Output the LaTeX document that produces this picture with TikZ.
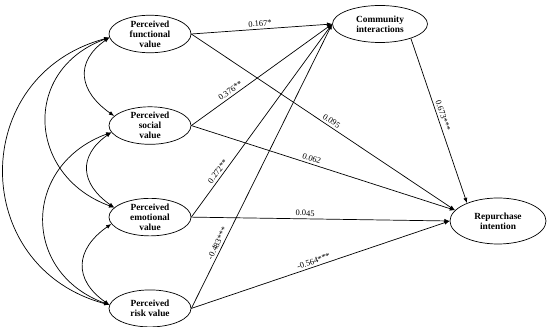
\documentclass[tikz,border=0pt]{standalone}
\usepackage{fontspec}
\setmainfont{Liberation Serif}
\usetikzlibrary{shapes.geometric,arrows.meta,positioning}

\begin{document}
\begin{tikzpicture}[
    node distance=1.6cm,
    latent/.style={ellipse, draw, semithick, minimum width=2.46cm, minimum height=1.11cm, inner sep=0pt, align=center, font=\fontsize{8}{8.5}\selectfont\bfseries},
    arrow/.style={-{Latex[length=4.5pt,width=3.5pt]}, semithick},
    covar/.style={{Latex[length=4.5pt,width=3.5pt]}-{Latex[length=4.5pt,width=3.5pt]}, semithick},
    coef/.style={font=\fontsize{7.2}{8}\selectfont, inner sep=2pt, sloped, above},
]
    \useasboundingbox (0,0) rectangle (16.5,9.81);
    % exogenous perceptions
    \node[latent] (FV) at (4.5,8.79) {Perceived\\functional\\value};
    \node[latent, below=of FV] (SV) {Perceived\\social\\value};
    \node[latent, below=of SV] (EV) {Perceived\\emotional\\value};
    \node[latent, below=of EV] (RV) {Perceived\\risk value};
    % mediator and outcome
    \node[latent, minimum width=2.85cm] (CI) at (11.4,9.09) {Community\\interactions};
    \node[latent, minimum width=2.88cm, minimum height=1.38cm] (RI) at (14.94,3.18) {Repurchase\\intention};

    \draw[arrow] (FV.east) -- node[coef, pos=.49] {0.167*} (CI.west);
    \draw[arrow] (SV.east) -- node[coef, pos=.3] {0.376**} (CI.west);
    \draw[arrow] (EV.east) -- node[coef, pos=.22] {0.272**} (CI.west);
    \draw[arrow] (RV.east) -- node[coef, pos=.22] {-0.483***} (CI.west);
    \draw[arrow] (FV.east) -- node[coef, pos=.52] {0.095} (RI.166);
    \draw[arrow] (SV.east) -- node[coef, pos=.45] {0.062} (RI.166);
    \draw[arrow] (EV.east) -- node[coef, pos=.44] {0.045} (RI.west);
    \draw[arrow] (RV.east) -- node[coef, pos=.48] {-0.564***} (RI.west);
    \draw[arrow] (CI.-25) -- node[coef, pos=.48] {0.673***} (RI.150);

    % correlations
    \draw[covar] (FV.185) to[out=215, in=145, looseness=1.4] (SV.165);
    \draw[covar] (SV.190) to[out=215, in=145, looseness=1.4] (EV.165);
    \draw[covar] (EV.190) to[out=215, in=145, looseness=1.4] (RV.175);
    \draw[covar] (FV.185) to[out=200, in=160, looseness=1.4] (EV.165);
    \draw[covar] (SV.190) to[out=200, in=160, looseness=1.4] (RV.175);
    \draw[covar] (FV.185) to[out=195, in=165, looseness=1.4] (RV.175);
\end{tikzpicture}
\end{document}
